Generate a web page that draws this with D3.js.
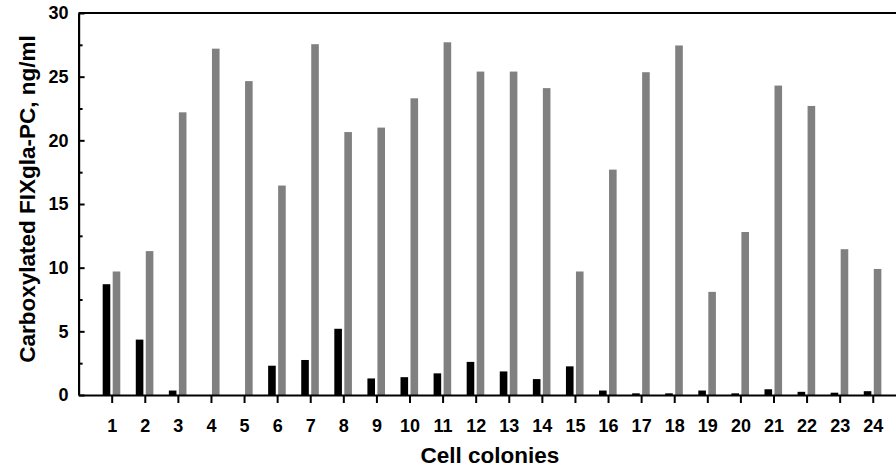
<!DOCTYPE html>
<html>
<head>
<meta charset="utf-8">
<script src="https://cdn.jsdelivr.net/npm/d3@7"></script>
<style>
  html, body { margin: 0; padding: 0; background: #fff; }
  svg { display: block; }
  text { font-family: "Liberation Sans", Arial, sans-serif; font-weight: bold; fill: #000; }
</style>
</head>
<body>
<svg id="chart" width="896" height="468"></svg>
<script>
const categories = ["1","2","3","4","5","6","7","8","9","10","11","12","13","14","15","16","17","18","19","20","21","22","23","24"];
const seriesNames = ["black", "gray"];
const blackValues = [8.7, 4.35, 0.35, 0, 0, 2.3, 2.75, 5.2, 1.3, 1.4, 1.7, 2.6, 1.85, 1.25, 2.25, 0.35, 0.13, 0.13, 0.35, 0.13, 0.45, 0.25, 0.18, 0.3];
const grayValues = [9.7, 11.3, 22.2, 27.2, 24.65, 16.45, 27.55, 20.65, 21.0, 23.3, 27.7, 25.4, 25.4, 24.1, 9.7, 17.7, 25.35, 27.45, 8.1, 12.8, 24.3, 22.7, 11.45, 9.9];
const yMajorTicks = [0, 5, 10, 15, 20, 25, 30];
const yMinorTicks = [2.5, 7.5, 12.5, 17.5, 22.5, 27.5];
const xTitle = "Cell colonies";
const yTitle = "Carboxylated FIXgla-PC, ng/ml";

const svg = d3.select("#chart");
const mLeft = 78.6, mTop = 13, mBottom = 395;

const x = d3.scaleLinear().domain([0, categories.length + 1]).range([mLeft, mLeft + 33.09 * (categories.length + 1)]);
const y = d3.scaleLinear().domain([0, 30]).range([mBottom, mTop]);
const sub = d3.scaleBand().domain(seriesNames).range([-9, 8.6]).paddingInner(0.24).paddingOuter(0);
const colors = d3.scaleOrdinal().domain(seriesNames).range(["#000000", "#808080"]);

const rows = categories.map((c, i) => ({ c, i: i + 1, vals: [blackValues[i], grayValues[i]] }));

const g = svg.append("g");
rows.forEach(r => {
  seriesNames.forEach((s, k) => {
    const v = r.vals[k];
    if (v <= 0) return;
    g.append("rect")
      .attr("x", x(r.i) + sub(s))
      .attr("width", sub.bandwidth())
      .attr("y", y(v))
      .attr("height", y(0) - y(v))
      .attr("fill", colors(s));
  });
});

// top frame line
svg.append("line")
  .attr("x1", x(0)).attr("x2", 896)
  .attr("y1", y(30)).attr("y2", y(30))
  .attr("stroke", "#000").attr("stroke-width", 2);

// x axis
const xAxis = d3.axisBottom(x)
  .tickValues(rows.map(r => r.i))
  .tickFormat((d, i) => categories[i])
  .tickSize(8).tickSizeOuter(0).tickPadding(16);
const gx = svg.append("g").attr("transform", `translate(0,${mBottom})`).call(xAxis);
gx.select(".domain").attr("stroke-width", 2.2);
gx.selectAll(".tick line").attr("stroke-width", 2);
gx.selectAll("text").style("font-size", "18px");

// y axis major
const yAxis = d3.axisLeft(y).tickValues(yMajorTicks).tickSize(-6).tickSizeOuter(0).tickPadding(10);
const gy = svg.append("g").attr("transform", `translate(${mLeft},0)`).call(yAxis);
gy.select(".domain").attr("stroke-width", 2.2);
gy.selectAll(".tick line").attr("stroke-width", 2);
gy.selectAll("text").style("font-size", "18px");

// y axis minor
const yMinor = d3.axisLeft(y).tickValues(yMinorTicks).tickSize(-4).tickFormat("");
const gym = svg.append("g").attr("transform", `translate(${mLeft},0)`).call(yMinor);
gym.select(".domain").remove();
gym.selectAll(".tick line").attr("stroke-width", 2);

// titles
svg.append("text")
  .attr("x", 490).attr("y", 463)
  .attr("text-anchor", "middle")
  .style("font-size", "22.5px")
  .text(xTitle);

svg.append("text")
  .attr("transform", "translate(35,199) rotate(-90)")
  .attr("text-anchor", "middle")
  .style("font-size", "22.5px")
  .text(yTitle);
</script>
</body>
</html>
